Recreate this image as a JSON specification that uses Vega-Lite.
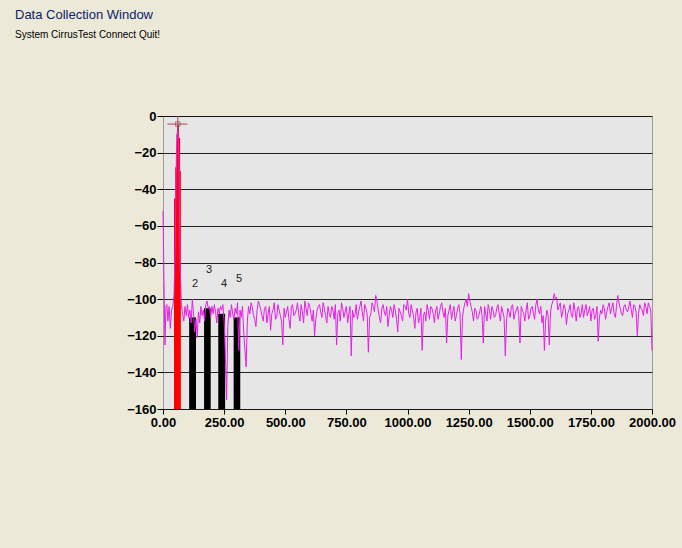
{
  "$schema": "https://vega.github.io/schema/vega-lite/v6.json",
  "autosize": {"type": "none"},
  "width": 489,
  "height": 293,
  "padding": {"left": 163, "top": 116, "right": 30, "bottom": 139},
  "background": "#ece9d8",
  "title": {
    "text": "Data Collection Window",
    "subtitle": "System   CirrusTest   Connect   Quit!",
    "anchor": "start",
    "frame": "group",
    "dx": -148,
    "offset": 70,
    "font": "Liberation Sans",
    "fontSize": 13,
    "fontWeight": "normal",
    "color": "#0a246a",
    "subtitleFont": "Liberation Sans",
    "subtitleFontSize": 10,
    "subtitleColor": "#000000",
    "subtitlePadding": 8
  },
  "config": {
    "view": {"fill": "#e6e6e6", "stroke": "#9a9a9a", "strokeWidth": 1},
    "axis": {
      "labelFont": "Liberation Sans",
      "labelFontWeight": "bold",
      "labelFontSize": 13,
      "labelColor": "#000000",
      "labelOverlap": false,
      "labelFlush": false,
      "labelBound": false,
      "tickColor": "#000000",
      "domain": false,
      "title": null
    },
    "axisY": {"tickCount": 9, "grid": true, "gridColor": "#000000", "gridOpacity": 0.85, "tickSize": 6, "labelPadding": 1},
    "axisX": {"grid": false, "tickSize": 5, "labelPadding": 2}
  },
  "datasets": {
    "spectrum": [
      {"f": 0, "db": -52}, {"f": 4, "db": -90}, {"f": 8, "db": -125}, {"f": 12, "db": -104}, {"f": 16, "db": -103},
      {"f": 20, "db": -112}, {"f": 25, "db": -104}, {"f": 30, "db": -116}, {"f": 35, "db": -106}, {"f": 40, "db": -104},
      {"f": 45, "db": -98}, {"f": 50, "db": -70}, {"f": 55, "db": -20}, {"f": 60, "db": -4.4}, {"f": 65, "db": -25},
      {"f": 70, "db": -80}, {"f": 75, "db": -103}, {"f": 80, "db": -108}, {"f": 85, "db": -112}, {"f": 90, "db": -104},
      {"f": 95, "db": -109}, {"f": 100, "db": -103}, {"f": 105, "db": -110}, {"f": 110, "db": -106}, {"f": 115, "db": -113},
      {"f": 120, "db": -100}, {"f": 125, "db": -108}, {"f": 130, "db": -118}, {"f": 135, "db": -111}, {"f": 140, "db": -121},
      {"f": 145, "db": -107}, {"f": 150, "db": -113}, {"f": 155, "db": -104}, {"f": 160, "db": -109}, {"f": 165, "db": -106},
      {"f": 170, "db": -112}, {"f": 175, "db": -103}, {"f": 180, "db": -101}, {"f": 185, "db": -105}, {"f": 190, "db": -104},
      {"f": 195, "db": -110}, {"f": 200, "db": -104}, {"f": 205, "db": -108}, {"f": 210, "db": -103}, {"f": 215, "db": -107},
      {"f": 220, "db": -113}, {"f": 225, "db": -105}, {"f": 230, "db": -108}, {"f": 235, "db": -104}, {"f": 240, "db": -106},
      {"f": 245, "db": -103}, {"f": 250, "db": -112}, {"f": 255, "db": -130}, {"f": 260, "db": -155}, {"f": 265, "db": -115},
      {"f": 270, "db": -106}, {"f": 275, "db": -110}, {"f": 280, "db": -103}, {"f": 285, "db": -108}, {"f": 290, "db": -111},
      {"f": 295, "db": -105}, {"f": 300, "db": -108}, {"f": 305, "db": -102}, {"f": 310, "db": -128}, {"f": 315, "db": -106},
      {"f": 320, "db": -110}, {"f": 325, "db": -104}, {"f": 330, "db": -118}, {"f": 340, "db": -137}, {"f": 345, "db": -112},
      {"f": 350, "db": -104}, {"f": 360, "db": -102}, {"f": 370, "db": -109}, {"f": 380, "db": -115}, {"f": 390, "db": -101},
      {"f": 400, "db": -106}, {"f": 410, "db": -112}, {"f": 420, "db": -104}, {"f": 430, "db": -108}, {"f": 440, "db": -117},
      {"f": 450, "db": -106}, {"f": 460, "db": -111}, {"f": 470, "db": -103}, {"f": 480, "db": -109}, {"f": 490, "db": -125},
      {"f": 500, "db": -110}, {"f": 510, "db": -104}, {"f": 520, "db": -116}, {"f": 530, "db": -103}, {"f": 540, "db": -108},
      {"f": 550, "db": -102}, {"f": 560, "db": -112}, {"f": 570, "db": -107}, {"f": 580, "db": -101}, {"f": 590, "db": -109},
      {"f": 600, "db": -104}, {"f": 610, "db": -112}, {"f": 620, "db": -120}, {"f": 630, "db": -106}, {"f": 640, "db": -103},
      {"f": 650, "db": -110}, {"f": 660, "db": -105}, {"f": 670, "db": -113}, {"f": 680, "db": -108}, {"f": 690, "db": -104},
      {"f": 700, "db": -111}, {"f": 710, "db": -125}, {"f": 720, "db": -106}, {"f": 730, "db": -102}, {"f": 740, "db": -110},
      {"f": 750, "db": -104}, {"f": 760, "db": -108}, {"f": 770, "db": -131}, {"f": 780, "db": -110}, {"f": 790, "db": -103},
      {"f": 800, "db": -107}, {"f": 810, "db": -101}, {"f": 820, "db": -112}, {"f": 830, "db": -105}, {"f": 840, "db": -129},
      {"f": 850, "db": -108}, {"f": 860, "db": -104}, {"f": 870, "db": -98}, {"f": 880, "db": -106}, {"f": 890, "db": -113},
      {"f": 900, "db": -103}, {"f": 910, "db": -109}, {"f": 920, "db": -115}, {"f": 930, "db": -104}, {"f": 940, "db": -110},
      {"f": 950, "db": -106}, {"f": 960, "db": -118}, {"f": 970, "db": -107}, {"f": 980, "db": -112}, {"f": 990, "db": -104},
      {"f": 1000, "db": -100}, {"f": 1010, "db": -110}, {"f": 1020, "db": -106}, {"f": 1030, "db": -116}, {"f": 1040, "db": -105},
      {"f": 1050, "db": -110}, {"f": 1060, "db": -128}, {"f": 1070, "db": -107}, {"f": 1080, "db": -103}, {"f": 1090, "db": -111},
      {"f": 1100, "db": -105}, {"f": 1110, "db": -113}, {"f": 1120, "db": -104}, {"f": 1130, "db": -108}, {"f": 1140, "db": -102},
      {"f": 1150, "db": -110}, {"f": 1160, "db": -124}, {"f": 1170, "db": -106}, {"f": 1180, "db": -111}, {"f": 1190, "db": -104},
      {"f": 1200, "db": -109}, {"f": 1210, "db": -103}, {"f": 1220, "db": -133}, {"f": 1230, "db": -105}, {"f": 1240, "db": -100},
      {"f": 1250, "db": -97}, {"f": 1260, "db": -104}, {"f": 1270, "db": -112}, {"f": 1280, "db": -106}, {"f": 1290, "db": -110},
      {"f": 1300, "db": -104}, {"f": 1310, "db": -124}, {"f": 1320, "db": -108}, {"f": 1330, "db": -103}, {"f": 1340, "db": -111},
      {"f": 1350, "db": -106}, {"f": 1360, "db": -109}, {"f": 1370, "db": -103}, {"f": 1380, "db": -112}, {"f": 1390, "db": -107},
      {"f": 1400, "db": -131}, {"f": 1410, "db": -105}, {"f": 1420, "db": -110}, {"f": 1430, "db": -103}, {"f": 1440, "db": -108},
      {"f": 1450, "db": -104}, {"f": 1460, "db": -124}, {"f": 1470, "db": -106}, {"f": 1480, "db": -112}, {"f": 1490, "db": -102},
      {"f": 1500, "db": -109}, {"f": 1510, "db": -104}, {"f": 1520, "db": -111}, {"f": 1530, "db": -100}, {"f": 1540, "db": -108},
      {"f": 1550, "db": -113}, {"f": 1560, "db": -128}, {"f": 1570, "db": -106}, {"f": 1580, "db": -125}, {"f": 1590, "db": -103},
      {"f": 1600, "db": -97}, {"f": 1610, "db": -99}, {"f": 1620, "db": -104}, {"f": 1630, "db": -110}, {"f": 1640, "db": -103},
      {"f": 1650, "db": -114}, {"f": 1660, "db": -106}, {"f": 1670, "db": -109}, {"f": 1680, "db": -102}, {"f": 1690, "db": -112},
      {"f": 1700, "db": -104}, {"f": 1710, "db": -108}, {"f": 1720, "db": -110}, {"f": 1730, "db": -103}, {"f": 1740, "db": -107},
      {"f": 1750, "db": -112}, {"f": 1760, "db": -105}, {"f": 1770, "db": -109}, {"f": 1780, "db": -123}, {"f": 1790, "db": -106},
      {"f": 1800, "db": -103}, {"f": 1810, "db": -111}, {"f": 1820, "db": -104}, {"f": 1830, "db": -108}, {"f": 1840, "db": -102},
      {"f": 1850, "db": -110}, {"f": 1860, "db": -98}, {"f": 1870, "db": -105}, {"f": 1880, "db": -109}, {"f": 1890, "db": -103},
      {"f": 1900, "db": -107}, {"f": 1910, "db": -101}, {"f": 1920, "db": -110}, {"f": 1930, "db": -104}, {"f": 1940, "db": -120},
      {"f": 1950, "db": -103}, {"f": 1960, "db": -106}, {"f": 1970, "db": -102}, {"f": 1980, "db": -108}, {"f": 1990, "db": -104},
      {"f": 2000, "db": -128},
      {"f": 355, "db": -108}, {"f": 365, "db": -104}, {"f": 375, "db": -111}, {"f": 385, "db": -106}, {"f": 395, "db": -103},
      {"f": 405, "db": -109}, {"f": 415, "db": -105}, {"f": 425, "db": -113}, {"f": 435, "db": -104}, {"f": 445, "db": -108},
      {"f": 455, "db": -102}, {"f": 465, "db": -110}, {"f": 475, "db": -106}, {"f": 485, "db": -112}, {"f": 495, "db": -105},
      {"f": 505, "db": -107}, {"f": 515, "db": -111}, {"f": 525, "db": -104}, {"f": 535, "db": -109}, {"f": 545, "db": -106},
      {"f": 555, "db": -108}, {"f": 565, "db": -103}, {"f": 575, "db": -113}, {"f": 585, "db": -105}, {"f": 595, "db": -102},
      {"f": 605, "db": -108}, {"f": 615, "db": -106}, {"f": 625, "db": -111}, {"f": 635, "db": -104}, {"f": 645, "db": -107},
      {"f": 655, "db": -102}, {"f": 665, "db": -109}, {"f": 675, "db": -104}, {"f": 685, "db": -110}, {"f": 695, "db": -106},
      {"f": 705, "db": -103}, {"f": 715, "db": -108}, {"f": 725, "db": -112}, {"f": 735, "db": -105}, {"f": 745, "db": -107},
      {"f": 755, "db": -113}, {"f": 765, "db": -104}, {"f": 775, "db": -106}, {"f": 785, "db": -109}, {"f": 795, "db": -111},
      {"f": 805, "db": -104}, {"f": 815, "db": -107}, {"f": 825, "db": -103}, {"f": 835, "db": -108}, {"f": 845, "db": -110},
      {"f": 855, "db": -102}, {"f": 865, "db": -107}, {"f": 875, "db": -101}, {"f": 885, "db": -110}, {"f": 895, "db": -105},
      {"f": 905, "db": -107}, {"f": 915, "db": -104}, {"f": 925, "db": -109}, {"f": 935, "db": -106}, {"f": 945, "db": -103},
      {"f": 955, "db": -111}, {"f": 965, "db": -105}, {"f": 975, "db": -109}, {"f": 985, "db": -103}, {"f": 995, "db": -106},
      {"f": 1005, "db": -108}, {"f": 1015, "db": -103}, {"f": 1025, "db": -110}, {"f": 1035, "db": -107}, {"f": 1045, "db": -113},
      {"f": 1055, "db": -105}, {"f": 1065, "db": -109}, {"f": 1075, "db": -112}, {"f": 1085, "db": -106}, {"f": 1095, "db": -104},
      {"f": 1105, "db": -108}, {"f": 1115, "db": -106}, {"f": 1125, "db": -111}, {"f": 1135, "db": -104}, {"f": 1145, "db": -107},
      {"f": 1155, "db": -105}, {"f": 1165, "db": -109}, {"f": 1175, "db": -103}, {"f": 1185, "db": -107}, {"f": 1195, "db": -112},
      {"f": 1205, "db": -105}, {"f": 1215, "db": -108}, {"f": 1225, "db": -110}, {"f": 1235, "db": -102}, {"f": 1245, "db": -104},
      {"f": 1255, "db": -101}, {"f": 1265, "db": -107}, {"f": 1275, "db": -105}, {"f": 1285, "db": -111}, {"f": 1295, "db": -107},
      {"f": 1305, "db": -109}, {"f": 1315, "db": -104}, {"f": 1325, "db": -112}, {"f": 1335, "db": -106}, {"f": 1345, "db": -104},
      {"f": 1355, "db": -110}, {"f": 1365, "db": -105}, {"f": 1375, "db": -108}, {"f": 1385, "db": -104}, {"f": 1395, "db": -110},
      {"f": 1405, "db": -112}, {"f": 1415, "db": -107}, {"f": 1425, "db": -104}, {"f": 1435, "db": -111}, {"f": 1445, "db": -106},
      {"f": 1455, "db": -109}, {"f": 1465, "db": -104}, {"f": 1475, "db": -108}, {"f": 1485, "db": -106}, {"f": 1495, "db": -111},
      {"f": 1505, "db": -105}, {"f": 1515, "db": -108}, {"f": 1525, "db": -103}, {"f": 1535, "db": -106}, {"f": 1545, "db": -104},
      {"f": 1555, "db": -109}, {"f": 1565, "db": -112}, {"f": 1575, "db": -109}, {"f": 1585, "db": -107}, {"f": 1595, "db": -101},
      {"f": 1605, "db": -100}, {"f": 1615, "db": -106}, {"f": 1625, "db": -102}, {"f": 1635, "db": -107}, {"f": 1645, "db": -105},
      {"f": 1655, "db": -108}, {"f": 1665, "db": -103}, {"f": 1675, "db": -110}, {"f": 1685, "db": -106}, {"f": 1695, "db": -105},
      {"f": 1705, "db": -110}, {"f": 1715, "db": -103}, {"f": 1725, "db": -106}, {"f": 1735, "db": -109}, {"f": 1745, "db": -104},
      {"f": 1755, "db": -106}, {"f": 1765, "db": -111}, {"f": 1775, "db": -104}, {"f": 1785, "db": -110}, {"f": 1795, "db": -108},
      {"f": 1805, "db": -105}, {"f": 1815, "db": -107}, {"f": 1825, "db": -102}, {"f": 1835, "db": -105}, {"f": 1845, "db": -108},
      {"f": 1855, "db": -104}, {"f": 1865, "db": -102}, {"f": 1875, "db": -108}, {"f": 1885, "db": -104}, {"f": 1895, "db": -106},
      {"f": 1905, "db": -104}, {"f": 1915, "db": -106}, {"f": 1925, "db": -103}, {"f": 1935, "db": -107}, {"f": 1945, "db": -108},
      {"f": 1955, "db": -105}, {"f": 1965, "db": -109}, {"f": 1975, "db": -104}, {"f": 1985, "db": -102}, {"f": 1995, "db": -106}
    ],
    "fundamental": [
      {"f": 45, "db": -45}, {"f": 50, "db": -28}, {"f": 55, "db": -10}, {"f": 60, "db": -5},
      {"f": 65, "db": -12}, {"f": 70, "db": -30}, {"f": 73, "db": -48}
    ],
    "harmonics": [
      {"n": "2", "f1": 107, "f2": 135, "top": -110, "lf": 131, "ly": -92},
      {"n": "3", "f1": 168, "f2": 195, "top": -105, "lf": 188, "ly": -84},
      {"n": "4", "f1": 226, "f2": 254, "top": -108, "lf": 250, "ly": -92},
      {"n": "5", "f1": 289, "f2": 316, "top": -110, "lf": 311, "ly": -89}
    ],
    "cursor": [{"f": 60.547, "db": -4.415, "fa": 18, "fb": 100, "da": 0, "dbb": -9}]
  },
  "layer": [
    {
      "data": {"name": "fundamental"},
      "mark": {"type": "area", "color": "#ff0000", "interpolate": "step-after"},
      "encoding": {
        "x": {"field": "f", "type": "quantitative", "scale": {"domain": [0, 2000], "nice": false},
          "axis": {"values": [0, 250, 500, 750, 1000, 1250, 1500, 1750, 2000], "format": ".2f"}},
        "y": {"field": "db", "type": "quantitative", "scale": {"domain": [-160, 0], "nice": false},
          "axis": {"values": [-160, -140, -120, -100, -80, -60, -40, -20, 0]}},
        "y2": {"datum": -160}
      }
    },
    {
      "data": {"name": "harmonics"},
      "mark": {"type": "rect", "color": "#000000"},
      "encoding": {
        "x": {"field": "f1", "type": "quantitative"},
        "x2": {"field": "f2"},
        "y": {"field": "top", "type": "quantitative", "axis": {"values": [-160, -140, -120, -100, -80, -60, -40, -20, 0]}},
        "y2": {"datum": -160}
      }
    },
    {
      "data": {"name": "spectrum"},
      "mark": {"type": "line", "color": "#e61ee6", "strokeWidth": 1},
      "encoding": {
        "x": {"field": "f", "type": "quantitative"},
        "y": {"field": "db", "type": "quantitative", "axis": {"values": [-160, -140, -120, -100, -80, -60, -40, -20, 0]}}
      }
    },
    {
      "data": {"name": "harmonics"},
      "mark": {"type": "text", "font": "Liberation Sans", "fontSize": 11, "color": "#222222"},
      "encoding": {
        "x": {"field": "lf", "type": "quantitative"},
        "y": {"field": "ly", "type": "quantitative", "axis": {"values": [-160, -140, -120, -100, -80, -60, -40, -20, 0]}},
        "text": {"field": "n"}
      }
    },
    {
      "data": {"name": "cursor"},
      "mark": {"type": "rule", "color": "#a04848", "strokeWidth": 1},
      "encoding": {
        "x": {"field": "fa", "type": "quantitative"},
        "x2": {"field": "fb"},
        "y": {"field": "db", "type": "quantitative", "axis": {"values": [-160, -140, -120, -100, -80, -60, -40, -20, 0]}}
      }
    },
    {
      "data": {"name": "cursor"},
      "mark": {"type": "rule", "color": "#a04848", "strokeWidth": 1},
      "encoding": {
        "x": {"field": "f", "type": "quantitative"},
        "y": {"field": "da", "type": "quantitative", "axis": {"values": [-160, -140, -120, -100, -80, -60, -40, -20, 0]}},
        "y2": {"field": "dbb"}
      }
    },
    {
      "data": {"name": "cursor"},
      "mark": {"type": "point", "shape": "square", "size": 20, "color": "#a04848", "filled": false, "strokeWidth": 1},
      "encoding": {
        "x": {"field": "f", "type": "quantitative"},
        "y": {"field": "db", "type": "quantitative", "axis": {"values": [-160, -140, -120, -100, -80, -60, -40, -20, 0]}}
      }
    }
  ]
}
